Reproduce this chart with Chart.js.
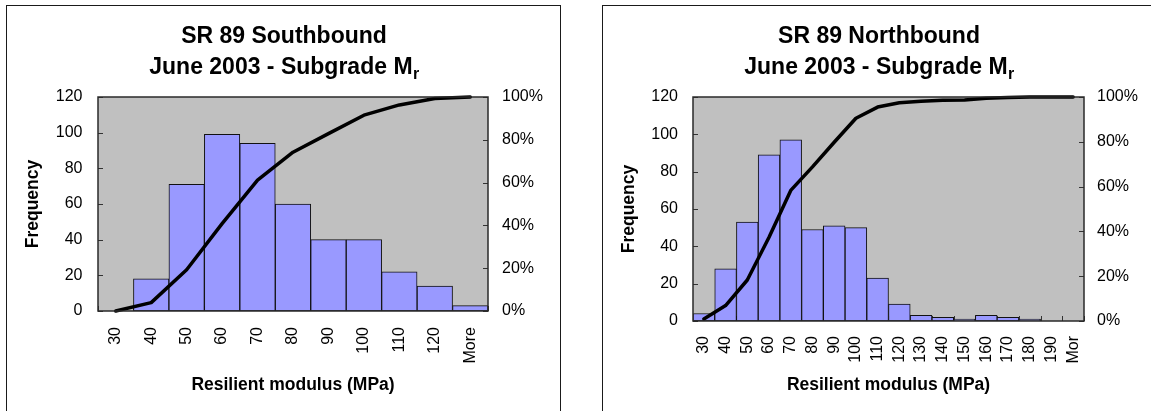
<!DOCTYPE html>
<html>
<head>
<meta charset="utf-8">
<script src="https://cdn.jsdelivr.net/npm/chart.js@4.4.1/dist/chart.umd.min.js"></script>
<style>
html,body{margin:0;padding:0;background:#fff;width:1151px;height:411px;overflow:hidden;}
.panel{position:absolute;border:1px solid #1a1a1a;box-sizing:border-box;background:#fff;}
#p1{left:6px;top:5px;width:555px;height:420px;}
#p2{left:602px;top:5px;width:560px;height:420px;}
canvas{position:absolute;}
#c1{left:7px;top:6px;}
#c2{left:603px;top:6px;}
</style>
</head>
<body>
<div class="panel" id="p1"></div>
<div class="panel" id="p2"></div>
<canvas id="c1" width="553" height="405"></canvas>
<canvas id="c2" width="548" height="405"></canvas>
<script>
// ---- Data ----
const southTitle1 = 'SR 89 Southbound';
const northTitle1 = 'SR 89 Northbound';
const titleLine2 = 'June 2003 - Subgrade M';
const titleSub = 'r';
const xAxisTitle = 'Resilient modulus (MPa)';
const yAxisTitle = 'Frequency';

const southBins = ['30','40','50','60','70','80','90','100','110','120','More'];
const southFrequency = [0, 18, 71, 99, 94, 60, 40, 40, 22, 14, 3];
const southCumulativePct = [0, 3.9, 19.3, 40.8, 61.2, 74.2, 82.9, 91.5, 96.3, 99.3, 100];

const northBins = ['30','40','50','60','70','80','90','100','110','120','130','140','150','160','170','180','190','Mor'];
const northFrequency = [4, 28, 53, 89, 97, 49, 51, 50, 23, 9, 3, 2, 1, 3, 2, 1, 0, 0];
const northCumulativePct = [0.9, 6.9, 18.3, 37.4, 58.3, 68.8, 79.8, 90.5, 95.5, 97.4, 98.1, 98.5, 98.7, 99.4, 99.8, 100, 100, 100];

const freqTicks = {min: 0, max: 120, step: 20};
const pctTicks = {min: 0, max: 100, step: 20};

// ---- Styling ----
const FONT = '"Liberation Sans", Arial, Helvetica, sans-serif';

function decoPlugin(title1, cx) {
  return {
    id: 'deco',
    beforeDraw(chart) {
      const {ctx, chartArea: a} = chart;
      ctx.save();
      ctx.fillStyle = '#C0C0C0';
      ctx.fillRect(a.left, a.top, a.right - a.left, a.bottom - a.top);
      ctx.restore();
    },
    beforeDatasetsDraw(chart) {
      const {ctx, chartArea: a, scales} = chart;
      ctx.save();
      ctx.strokeStyle = '#333';
      ctx.lineWidth = 1;
      ctx.beginPath();
      scales.y.ticks.forEach(t => {
        const py = Math.round(scales.y.getPixelForValue(t.value)) + 0.5;
        ctx.moveTo(a.left, py); ctx.lineTo(a.left + 5, py);
      });
      scales.y1.ticks.forEach(t => {
        const py = Math.round(scales.y1.getPixelForValue(t.value)) + 0.5;
        ctx.moveTo(a.right - 5, py); ctx.lineTo(a.right, py);
      });
      const n = scales.x.ticks.length;
      for (let i = 0; i <= n; i++) {
        let px;
        if (i === 0) px = a.left;
        else if (i === n) px = a.right;
        else px = (scales.x.getPixelForValue(i - 1) + scales.x.getPixelForValue(i)) / 2;
        px = Math.round(px) + 0.5;
        ctx.moveTo(px, a.bottom); ctx.lineTo(px, a.bottom - 5);
      }
      ctx.stroke();
      ctx.restore();
    },
    afterDatasetsDraw(chart) {
      const {ctx, chartArea: a} = chart;
      ctx.save();
      ctx.strokeStyle = '#2a2a2a';
      ctx.lineWidth = 1.5;
      ctx.strokeRect(a.left, a.top, a.right - a.left, a.bottom - a.top);
      ctx.restore();
    },
    afterDraw(chart) {
      const {ctx} = chart;
      ctx.save();
      ctx.fillStyle = '#000';
      ctx.textBaseline = 'alphabetic';
      ctx.font = 'bold 23px ' + FONT;
      ctx.textAlign = 'center';
      ctx.fillText(title1, cx, 37);
      const w1 = ctx.measureText(titleLine2).width;
      ctx.font = 'bold 16px ' + FONT;
      const w2 = ctx.measureText(titleSub).width;
      const x0 = cx - (w1 + w2) / 2;
      ctx.textAlign = 'left';
      ctx.font = 'bold 23px ' + FONT;
      ctx.fillText(titleLine2, x0, 68);
      ctx.font = 'bold 16px ' + FONT;
      ctx.fillText(titleSub, x0 + w1 + 0.5, 73);
      ctx.restore();
    }
  };
}

function buildChart(id, bins, freq, cumPct, title1, g) {
  const tickFont = {family: FONT, size: 16};
  const axTitleFont = {family: FONT, size: 17.5, weight: 'bold', lineHeight: 1.2};
  return new Chart(document.getElementById(id), {
    type: 'bar',
    data: {
      labels: bins,
      datasets: [
        {
          type: 'line',
          data: cumPct,
          yAxisID: 'y1',
          borderColor: '#000',
          borderWidth: 3.5,
          pointRadius: 0,
          tension: 0,
          fill: false,
          borderJoinStyle: 'round',
          borderCapStyle: 'round',
          clip: 6,
          order: 0
        },
        {
          type: 'bar',
          data: freq,
          yAxisID: 'y',
          backgroundColor: '#9999FF',
          borderColor: '#111',
          borderWidth: 1,
          borderSkipped: false,
          barPercentage: 1,
          categoryPercentage: 1,
          order: 1
        }
      ]
    },
    options: {
      responsive: false,
      animation: false,
      events: [],
      layout: {padding: {top: g.top, left: 0, right: 0, bottom: 0}},
      plugins: {legend: {display: false}, tooltip: {enabled: false}, title: {display: false}},
      scales: {
        x: {
          type: 'category',
          offset: true,
          grid: {display: false, drawTicks: false},
          border: {display: false},
          ticks: {color: '#000', font: tickFont, minRotation: 90, maxRotation: 90, padding: g.xPad, autoSkip: false},
          title: {display: true, text: xAxisTitle, color: '#000', font: axTitleFont, padding: {top: 0, bottom: 15.5}},
          afterFit(s) { s.height = g.xH; }
        },
        y: {
          position: 'left',
          min: freqTicks.min, max: freqTicks.max,
          grid: {display: false, drawTicks: false},
          border: {display: false},
          ticks: {stepSize: freqTicks.step, color: '#000', font: tickFont, padding: g.yPad},
          title: {display: true, text: yAxisTitle, color: '#000', font: axTitleFont, padding: {top: 16, bottom: 0}},
          afterFit(s) { s.width = g.yW; }
        },
        y1: {
          position: 'right',
          min: pctTicks.min, max: pctTicks.max,
          grid: {display: false, drawTicks: false},
          border: {display: false},
          ticks: {stepSize: pctTicks.step, color: '#000', font: tickFont, padding: g.y1Pad, callback: v => v + '%'},
          afterFit(s) { s.width = g.y1W; }
        }
      }
    },
    plugins: [decoPlugin(title1, g.cx)]
  });
}

buildChart('c1', southBins, southFrequency, southCumulativePct, southTitle1,
  {top: 91, xH: 100, yW: 91, y1W: 72, xPad: 16, yPad: 15.5, y1Pad: 14, cx: 277});
buildChart('c2', northBins, northFrequency, northCumulativePct, northTitle1,
  {top: 91, xH: 90, yW: 90, y1W: 67, xPad: 15, yPad: 15, y1Pad: 13, cx: 276});
</script>
</body>
</html>
